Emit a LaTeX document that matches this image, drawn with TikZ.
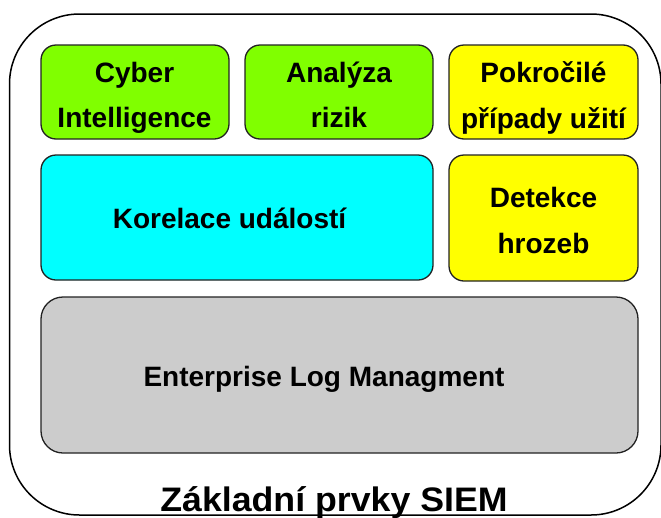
\documentclass[tikz,border=0pt]{standalone}
\usepackage{graphicx}
\usepackage{fontspec}
\setmainfont{Liberation Sans}
\definecolor{cgreen}{HTML}{80FF00}
\definecolor{ccyan}{HTML}{00FFFF}
\definecolor{cyellow}{HTML}{FFFF00}
\definecolor{cgray}{HTML}{CCCCCC}
\definecolor{edge}{HTML}{222222}
\begin{document}
\begin{tikzpicture}[x=1pt,y=-1pt,
  blk/.style={draw=edge, line width=1.3pt, rounded corners=15pt, inner sep=0pt},
  txt/.style={anchor=base, inner sep=0pt, font=\fontsize{28}{34}\selectfont\bfseries},
  outer/.style={draw=black, line width=1.5pt, rounded corners=70pt}]
\useasboundingbox (0,0) rectangle (661,517);
\fill[white] (0,0) rectangle (661,517);
\draw[outer] (9.5,14) rectangle (661,515);
\node[blk, fill=cgreen, minimum width=188pt, minimum height=94pt] (ci) at (135,92) {};
\node[blk, fill=cgreen, minimum width=188pt, minimum height=94pt] (ar) at (339,92) {};
\node[blk, fill=cyellow, minimum width=189pt, minimum height=94pt] (pk) at (543.5,92) {};
\node[blk, fill=ccyan, minimum width=392pt, minimum height=125pt] (ko) at (237,217.5) {};
\node[blk, fill=cyellow, minimum width=189pt, minimum height=126pt] (de) at (543.5,218) {};
\node[blk, fill=cgray, rounded corners=22pt, minimum width=597pt, minimum height=156pt] (el) at (339.5,375) {};
\node[txt] (ci1) at (134.5,82.5) {Cyber};
\node[txt] (ci2) at (134.5,127.5) {Intelligence};
\node[txt] (ar1) at (339,82) {Analýza};
\node[txt] (ar2) at (339,127) {rizik};
\node[txt] (pk1) at (543.5,82) {Pokročilé};
\node[txt] (pk2) at (543.5,128) {případy užití};
\node[txt] (ko1) at (229.5,228.5) {Korelace událostí};
\node[txt] (de1) at (543.5,207) {Detekce};
\node[txt] (de2) at (543.5,253) {hrozeb};
\node[txt] (el1) at (324,386) {Enterprise Log Managment};
\node[anchor=base, inner sep=0pt, font=\fontsize{34}{40}\selectfont\bfseries] (title) at (334,511) {\scalebox{1.05}[1]{Základní prvky SIEM}};
\end{tikzpicture}
\end{document}
